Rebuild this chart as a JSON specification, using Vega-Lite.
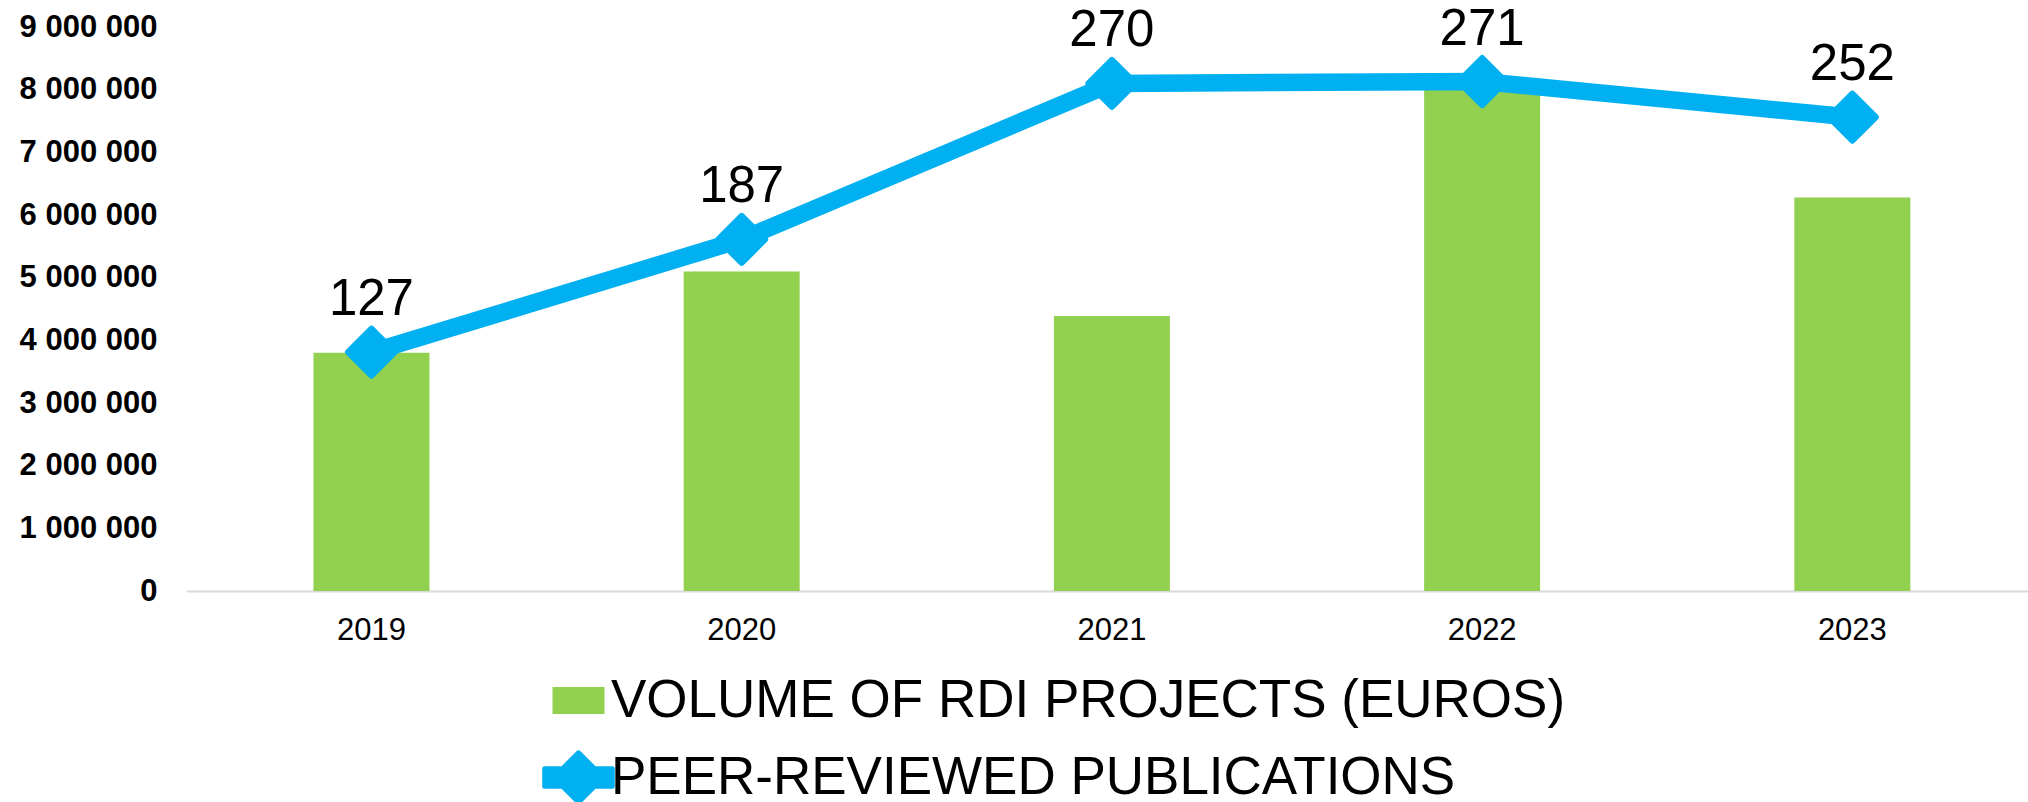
{
  "$schema": "https://vega.github.io/schema/vega-lite/v6.json",
  "width": 1842,
  "height": 564,
  "autosize": {"type": "none"},
  "padding": {"left": 186, "top": 27, "right": 0, "bottom": 211},
  "background": "white",
  "config": {"view": {"stroke": null}, "font": "Liberation Sans"},
  "data": {
    "values": [
      {"year": "2019", "volume": 3800000, "pubs": 127},
      {"year": "2020", "volume": 5100000, "pubs": 187},
      {"year": "2021", "volume": 4390000, "pubs": 270},
      {"year": "2022", "volume": 8000000, "pubs": 271},
      {"year": "2023", "volume": 6280000, "pubs": 252}
    ]
  },
  "encoding": {
    "x": {
      "field": "year",
      "type": "ordinal",
      "scale": {"paddingInner": 0.6867, "paddingOuter": 0.331, "align": 0.52},
      "axis": {
        "title": null,
        "labelFont": "Liberation Sans",
        "labelFontSize": 31,
        "labelColor": "black",
        "labelAngle": 0,
        "ticks": false,
        "tickSize": 0,
        "grid": false,
        "domainColor": "#D9D9D9",
        "domainWidth": 2,
        "labelPadding": 24
      }
    }
  },
  "layer": [
    {
      "mark": {"type": "bar", "color": "#92D050"},
      "encoding": {
        "y": {
          "field": "volume",
          "type": "quantitative",
          "scale": {"domain": [0, 9000000], "nice": false},
          "axis": {
            "title": null,
            "values": [0, 1000000, 2000000, 3000000, 4000000, 5000000, 6000000, 7000000, 8000000, 9000000],
            "labelExpr": "datum.value == 0 ? '0' : format(datum.value / 1000000, 'd') + ' 000 000'",
            "labelFont": "Liberation Sans",
            "labelFontSize": 31,
            "labelFontWeight": "bold",
            "labelColor": "black",
            "domain": false,
            "ticks": false,
            "tickSize": 0,
            "grid": false,
            "labelPadding": 29
          }
        },
        "color": {
          "datum": "VOLUME OF RDI PROJECTS (EUROS)",
          "type": "nominal",
          "scale": {
            "domain": ["VOLUME OF RDI PROJECTS (EUROS)", "PEER-REVIEWED PUBLICATIONS"],
            "range": ["#92D050", "#00B0F0"]
          },
          "legend": {
            "title": null,
            "orient": "none",
            "legendX": 366,
            "legendY": 647,
            "direction": "vertical",
            "padding": 0,
            "labelFont": "Liberation Sans",
            "labelFontSize": 53,
            "labelColor": "black",
            "labelLimit": 0,
            "labelOffset": 6,
            "rowPadding": 22,
            "symbolSize": 2704,
            "encode": {
              "symbols": {
                "update": {
                  "shape": {"signal": "datum.value === 'VOLUME OF RDI PROJECTS (EUROS)' ? 'M-1,-0.52H1V0.52H-1Z' : 'M0,-0.95L0.95,0L0,0.95L-0.95,0Z M-1.3,-0.34H1.3V0.34H-1.3Z'"},
                  "size": {"value": 2704},
                  "fill": {"signal": "datum.value === 'VOLUME OF RDI PROJECTS (EUROS)' ? '#92D050' : '#00B0F0'"},
                  "stroke": {"signal": "datum.value === 'VOLUME OF RDI PROJECTS (EUROS)' ? '#92D050' : '#00B0F0'"},
                  "strokeWidth": {"signal": "datum.value === 'VOLUME OF RDI PROJECTS (EUROS)' ? 0 : 5"},
                  "strokeJoin": {"value": "round"},
                  "opacity": {"value": 1},
                  "fillOpacity": {"value": 1},
                  "strokeOpacity": {"value": 1}
                }
              }
            }
          }
        }
      }
    },
    {
      "encoding": {
        "y": {
          "field": "pubs",
          "type": "quantitative",
          "scale": {"domain": [0, 300], "nice": false},
          "axis": null
        }
      },
      "layer": [
        {
          "mark": {"type": "line", "strokeWidth": 17.5, "strokeJoin": "round", "strokeCap": "butt"},
          "encoding": {
            "color": {"datum": "PEER-REVIEWED PUBLICATIONS", "type": "nominal"}
          }
        },
        {
          "mark": {
            "type": "point",
            "shape": "diamond",
            "size": 2209,
            "fill": "#00B0F0",
            "stroke": "#00B0F0",
            "strokeWidth": 6,
            "strokeJoin": "round",
            "opacity": 1,
            "fillOpacity": 1
          },
          "encoding": {}
        },
        {
          "mark": {
            "type": "text",
            "dy": -37,
            "baseline": "alphabetic",
            "align": "center",
            "font": "Liberation Sans",
            "fontSize": 51,
            "color": "black"
          },
          "encoding": {"text": {"field": "pubs", "type": "quantitative"}}
        }
      ]
    }
  ],
  "resolve": {"scale": {"y": "independent"}}
}
